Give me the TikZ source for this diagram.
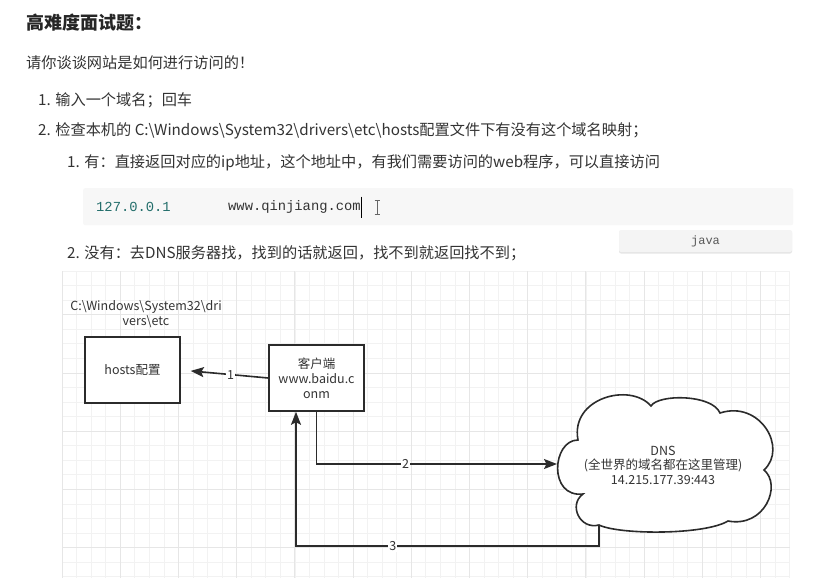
\documentclass[tikz,border=0pt]{standalone}
\usepackage{fontspec}
\setmainfont{Noto Sans CJK SC}
\newfontfamily\monof{Liberation Mono}
\usetikzlibrary{arrows.meta,calc}
\definecolor{txtc}{HTML}{333333}
\definecolor{linec}{HTML}{2B2B2B}
\definecolor{gridminor}{HTML}{F2F2F2}
\definecolor{gridmajor}{HTML}{E6E6E6}
\definecolor{codebg}{HTML}{F7F7F7}
\definecolor{btnbg}{HTML}{F4F4F4}
\definecolor{ipc}{HTML}{236E6B}
\begin{document}
\begin{tikzpicture}[x=1pt,y=-1pt,
  txt/.style={text=txtc, inner sep=0pt, anchor=west, font=\fontsize{15.2}{18}\selectfont},
  mono/.style={inner sep=0pt, anchor=west, font=\monof\fontsize{13.8}{16}\selectfont},
  box/.style={draw=linec, line width=1.6pt, fill=white, minimum width=95pt, minimum height=66pt, inner sep=0pt, font=\fontsize{12.5}{15}\selectfont, text=txtc, align=center},
  conn/.style={draw=linec, line width=1.6pt, -{Stealth[length=13pt,width=10pt,inset=2.5pt]}},
  elabel/.style={fill=white, inner sep=1pt, font=\fontsize{12.5}{14}\selectfont, text=txtc},
  dtext/.style={inner sep=0pt, align=center, text=txtc}
]
\fill[white] (0,0) rectangle (830,578);
\useasboundingbox (0,0) rectangle (830,578);

% grid
\foreach \i in {0,...,50} \draw[gridminor, line width=0.6pt] ({62+14.55*\i},271) -- ({62+14.55*\i},578);
\foreach \j in {0,...,21} \draw[gridminor, line width=0.6pt] (62,{271+14.55*\j}) -- (789.5,{271+14.55*\j});
\foreach \i in {0,4,...,48} \draw[gridmajor, line width=0.7pt] ({62+14.55*\i},271) -- ({62+14.55*\i},578);
\foreach \j in {3,7,...,19} \draw[gridmajor, line width=0.7pt] (62,{271+14.55*\j}) -- (789.5,{271+14.55*\j});

% text
\node[txt, font=\bfseries\fontsize{18}{20}\selectfont, text=black!85] (title) at (26,23) {高难度面试题：};
\node[txt] (q) at (26,63) {请你谈谈网站是如何进行访问的！};
\node[txt] (s1) at (38,100) {1. 输入一个域名；回车};
\node[txt] (s2) at (38,131) {2. 检查本机的 C:\textbackslash Windows\textbackslash System32\textbackslash drivers\textbackslash etc\textbackslash hosts配置文件下有没有这个域名映射；};
\node[txt] (s21) at (67,163) {1. 有：直接返回对应的ip地址，这个地址中，有我们需要访问的web程序，可以直接访问};

% code block
\node[fill=codebg, rounded corners=2pt, minimum width=710pt, minimum height=37pt, inner sep=0pt, anchor=north west] (code) at (83,188) {};
\node[mono, text=ipc] (ip) at (96,207) {127.0.0.1};
\node[mono, text=black!80] (dom) at (228,207) {www.qinjiang.com};
\draw[black, line width=0.8pt] (dom.east) ++(0.8,-10.5) -- ++(0,21);
\draw[black!60, line width=0.7pt] (377,200) -- (377,214) (374.5,200) -- (379.5,200) (374.5,214) -- (379.5,214);

% java button
\fill[black!10, rounded corners=2pt] (619,231) rectangle (792,253.5);
\node[fill=btnbg, rounded corners=2pt, minimum width=173pt, minimum height=22pt, inner sep=0pt, font=\monof\fontsize{12}{14}\selectfont, text=black!65] (java) at (705.5,241) {java};

\node[txt] (s22) at (67,253) {2. 没有：去DNS服务器找，找到的话就返回，找不到就返回找不到；};

% diagram
\node[dtext, font=\fontsize{12.5}{15}\selectfont] (path) at (146,314.5) {C:\textbackslash Windows\textbackslash System32\textbackslash dri\\vers\textbackslash etc};
\node[box] (hosts) at (132.5,370) {hosts配置};
\node[box] (client) at (316.5,378) {客户端\\www.baidu.c\\onm};

% cloud
\draw[line width=1.6pt, draw=linec, fill=white]
  (583,494) .. controls (548,498) and (552,440) .. (578,440)
  .. controls (570,398) and (630,382) .. (651,406)
  .. controls (658,394) and (712,394) .. (720,413)
  .. controls (760,400) and (788,448) .. (764,470)
  .. controls (782,485) and (765,528) .. (728,521)
  .. controls (705,535) and (620,535) .. (599,525)
  .. controls (580,530) and (568,505) .. (583,494) -- cycle;
\coordinate (dnsL) at (557,464);
\coordinate (dnsB) at (599,525);
\node[dtext, font=\fontsize{12.5}{14.5}\selectfont] (dns) at (663,465) {DNS\\(全世界的域名都在这里管理)\\14.215.177.39:443};

% connectors
\draw[conn, shorten >=10pt] (client.west) -- node[elabel, pos=0.43] {1} (hosts.east);
\draw[conn] (client.south) |- node[elabel, pos=0.685] {2} (dnsL);
\coordinate (c3) at (296,546);
\draw[conn] (dnsB) |- node[elabel, pos=0.84] {3} (c3) -- (c3 |- client.south);
\end{tikzpicture}
\end{document}
